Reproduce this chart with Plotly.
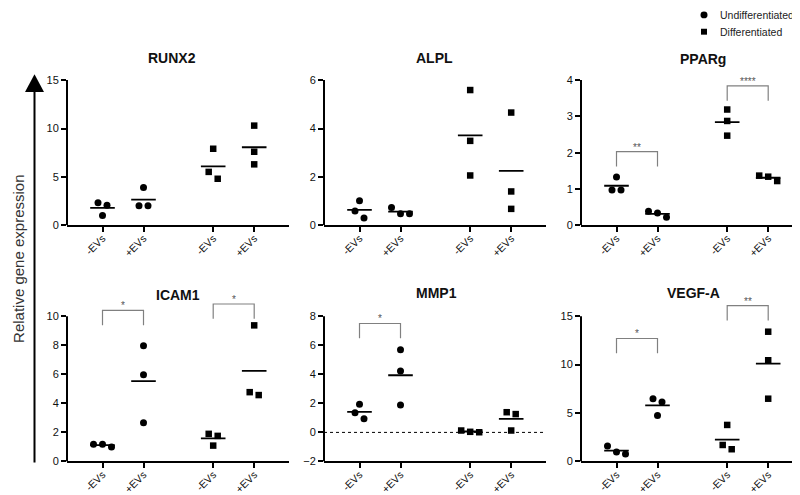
import plotly.graph_objects as go

# ---------------- data ----------------
GENES = ["RUNX2", "ALPL", "PPARg", "ICAM1", "MMP1", "VEGF-A"]
X_TICK_LABELS = ["-EVs", "+EVs", "-EVs", "+EVs"]
GROUP_NAMES = ["Undifferentiated", "Differentiated"]
Y_AXIS_TITLE = "Relative gene expression"

# each list: [Undiff -EVs, Undiff +EVs, Diff -EVs, Diff +EVs]
RUNX2_VALUES = [[2.32, 2.08, 1.02], [3.92, 2.01, 2.01], [7.91, 5.52, 4.81], [10.3, 7.6, 6.3]]
ALPL_VALUES = [[1.02, 0.59, 0.30], [0.74, 0.48, 0.48], [5.59, 3.49, 2.06], [4.66, 1.40, 0.68]]
PPARG_VALUES = [[1.33, 0.97, 0.97], [0.39, 0.22, 0.34], [3.19, 2.875, 2.47], [1.37, 1.22, 1.34]]
ICAM1_VALUES = [[1.18, 0.995, 1.18], [7.96, 5.97, 2.67], [1.90, 1.76, 1.09], [9.37, 4.57, 4.77]]
MMP1_VALUES = [[1.94, 1.35, 0.94], [5.69, 4.22, 1.89], [0.13, 0.01, 0.04], [1.39, 1.26, 0.13]]
VEGFA_VALUES = [[1.59, 0.78, 0.98], [6.48, 6.14, 4.75], [3.77, 1.70, 1.26], [13.4, 10.45, 6.48]]

Y_TICKS = {
    "RUNX2": [0, 5, 10, 15],
    "ALPL": [0, 2, 4, 6],
    "PPARg": [0, 1, 2, 3, 4],
    "ICAM1": [0, 2, 4, 6, 8, 10],
    "MMP1": [-2, 0, 2, 4, 6, 8],
    "VEGF-A": [0, 5, 10, 15],
}

# significance: gene, group a, group b, label
SIGNIFICANCE = [
    ("PPARg", 0, 1, "**"), ("PPARg", 2, 3, "****"),
    ("ICAM1", 0, 1, "*"), ("ICAM1", 2, 3, "*"),
    ("MMP1", 0, 1, "*"),
    ("VEGF-A", 0, 1, "*"), ("VEGF-A", 2, 3, "**"),
]

# ---------------- style / layout ----------------
VALUES = dict(zip(GENES, [RUNX2_VALUES, ALPL_VALUES, PPARG_VALUES,
                          ICAM1_VALUES, MMP1_VALUES, VEGFA_VALUES]))
BRACKET_LEVEL = {("PPARg", 0): 2.03, ("PPARg", 2): 3.84, ("ICAM1", 0): 10.4,
                 ("ICAM1", 2): 10.84, ("MMP1", 0): 7.5, ("VEGF-A", 0): 12.7,
                 ("VEGF-A", 2): 16.1}

W, H = 800, 495
FONT = "Liberation Sans, Arial, Helvetica, sans-serif"
CAT_POS = [1, 2, 3.7, 4.7]
UNIT_PX = 41.0
X0 = 1 - 35.5 / UNIT_PX
PANEL_W = 222
COL_L = [59, 316, 573]
ROW_TOP = [73, 312]
ROW_BOT = [220, 459]
EXT = 26
TITLE_X = [164, 427, 695, 170, 428, 685]
TITLE_Y = [51, 51, 52, 291, 289, 289]
STEP_PX = 9.0
CLUSTER_PX = 7.5


def px(x):
    return x / W


def py(y):
    return 1 - y / H


def swarm(vals, ppu):
    order = sorted(range(len(vals)), key=lambda i: -vals[i])
    clusters, cur = [], [order[0]]
    for i in order[1:]:
        if (vals[cur[-1]] - vals[i]) * ppu < CLUSTER_PX:
            cur.append(i)
        else:
            clusters.append(cur)
            cur = [i]
    clusters.append(cur)
    off = [0.0] * len(vals)
    for c in clusters:
        k = len(c)
        for j, idx in enumerate(c):
            off[idx] = (j - (k - 1) / 2) * STEP_PX / UNIT_PX
    return off


fig = go.Figure()
layout = {}
shapes = []
annotations = []

for k, gene in enumerate(GENES):
    r, c = divmod(k, 3)
    ax = k + 1
    xn = "x" if ax == 1 else f"x{ax}"
    yn = "y" if ax == 1 else f"y{ax}"
    ticks = Y_TICKS[gene]
    ymin, ymax = ticks[0], ticks[-1]
    top, bot = ROW_TOP[r], ROW_BOT[r]
    ppu = (bot - top) / (ymax - ymin)
    L = COL_L[c]
    xend = X0 + PANEL_W / UNIT_PX

    layout[f"xaxis{ax}"] = dict(
        domain=[px(L), px(L + PANEL_W)], anchor=yn, range=[X0, xend],
        tickvals=CAT_POS, ticktext=X_TICK_LABELS, tickangle=-45,
        ticks="outside", ticklen=5, tickwidth=2, tickcolor="black",
        ticklabelstandoff=-4,
        showline=True, linewidth=2, linecolor="black",
        showgrid=False, zeroline=False,
        tickfont=dict(family=FONT, size=10.5, color="#111"))
    layout[f"yaxis{ax}"] = dict(
        domain=[py(bot), py(top - EXT)], anchor=xn,
        range=[ymin, ymax + EXT / ppu], tickvals=ticks,
        ticks="outside", ticklen=5, tickwidth=2, tickcolor="black",
        showline=False, showgrid=False, zeroline=False,
        tickfont=dict(family=FONT, size=11, color="#111"))
    # visible y axis line only up to the last tick
    shapes.append(dict(type="line", xref="paper", yref=yn, x0=px(L), x1=px(L),
                       y0=ymin, y1=ymax, line=dict(color="black", width=2)))

    if gene == "MMP1":
        fig.add_trace(go.Scatter(x=[X0, xend], y=[0, 0], mode="lines",
                                 line=dict(color="black", width=1, dash="dot"),
                                 xaxis=xn, yaxis=yn, showlegend=False, hoverinfo="skip"))

    for gi, vals in enumerate(VALUES[gene]):
        offs = swarm(vals, ppu)
        pos = CAT_POS[gi]
        diff = gi >= 2
        fig.add_trace(go.Scatter(
            x=[pos + o for o in offs], y=vals, mode="markers",
            marker=dict(symbol="square" if diff else "circle",
                        size=6.5 if diff else 7, color="black"),
            name=GROUP_NAMES[1 if diff else 0], cliponaxis=False,
            xaxis=xn, yaxis=yn, showlegend=False))
        mean = sum(vals) / len(vals)
        fig.add_trace(go.Scatter(
            x=[pos - 0.3, pos + 0.3], y=[mean, mean], mode="lines",
            line=dict(color="black", width=1.8), xaxis=xn, yaxis=yn,
            showlegend=False, hoverinfo="skip"))

    for g, a, b, lab in SIGNIFICANCE:
        if g != gene:
            continue
        lvl = BRACKET_LEVEL[(g, a)]
        leg = 15 / ppu
        xa, xb = CAT_POS[a], CAT_POS[b]
        fig.add_trace(go.Scatter(
            x=[xa, xa, xb, xb], y=[lvl - leg, lvl, lvl, lvl - leg], mode="lines",
            line=dict(color="#808080", width=1.2), xaxis=xn, yaxis=yn,
            showlegend=False, hoverinfo="skip"))
        annotations.append(dict(x=(xa + xb) / 2, y=lvl, xref=xn, yref=yn,
                                text=lab, showarrow=False, yanchor="bottom",
                                yshift=-3, font=dict(family=FONT, size=10, color="#555")))

    annotations.append(dict(x=px(TITLE_X[k]), y=py(TITLE_Y[k]), xref="paper", yref="paper",
                            text=f"<b>{gene}</b>", showarrow=False,
                            xanchor="center", yanchor="middle",
                            font=dict(family=FONT, size=14, color="#111")))

# big y-axis arrow and label
shapes.append(dict(type="line", xref="paper", yref="paper",
                   x0=px(26.5), x1=px(26.5), y0=py(460), y1=py(84),
                   line=dict(color="black", width=2)))
shapes.append(dict(type="path", xref="paper", yref="paper",
                   path=f"M {px(17)},{py(85)} L {px(36)},{py(85)} L {px(26.5)},{py(67)} Z",
                   fillcolor="black", line=dict(color="black", width=0)))
annotations.append(dict(x=px(11), y=py(254), xref="paper", yref="paper",
                        text=Y_AXIS_TITLE, textangle=-90, showarrow=False,
                        xanchor="center", yanchor="middle",
                        font=dict(family=FONT, size=15, color="#333")))

# manual legend
shapes.append(dict(type="circle", xref="paper", yref="paper",
                   x0=px(692.5), x1=px(699.5), y0=py(10.5), y1=py(3.5),
                   fillcolor="black", line=dict(width=0)))
shapes.append(dict(type="rect", xref="paper", yref="paper",
                   x0=px(693), x1=px(699), y0=py(27), y1=py(21),
                   fillcolor="black", line=dict(width=0)))
for name, yy in zip(GROUP_NAMES, [7, 24]):
    annotations.append(dict(x=px(710), y=py(yy), xref="paper", yref="paper",
                            text=name, showarrow=False, xanchor="left", yanchor="middle",
                            font=dict(family=FONT, size=10.5, color="#222")))

fig.update_layout(width=W, height=H, margin=dict(l=0, r=0, t=0, b=0),
                  paper_bgcolor="white", plot_bgcolor="white",
                  shapes=shapes, annotations=annotations, showlegend=False,
                  font=dict(family=FONT), **layout)

fig.write_html("out.html")
